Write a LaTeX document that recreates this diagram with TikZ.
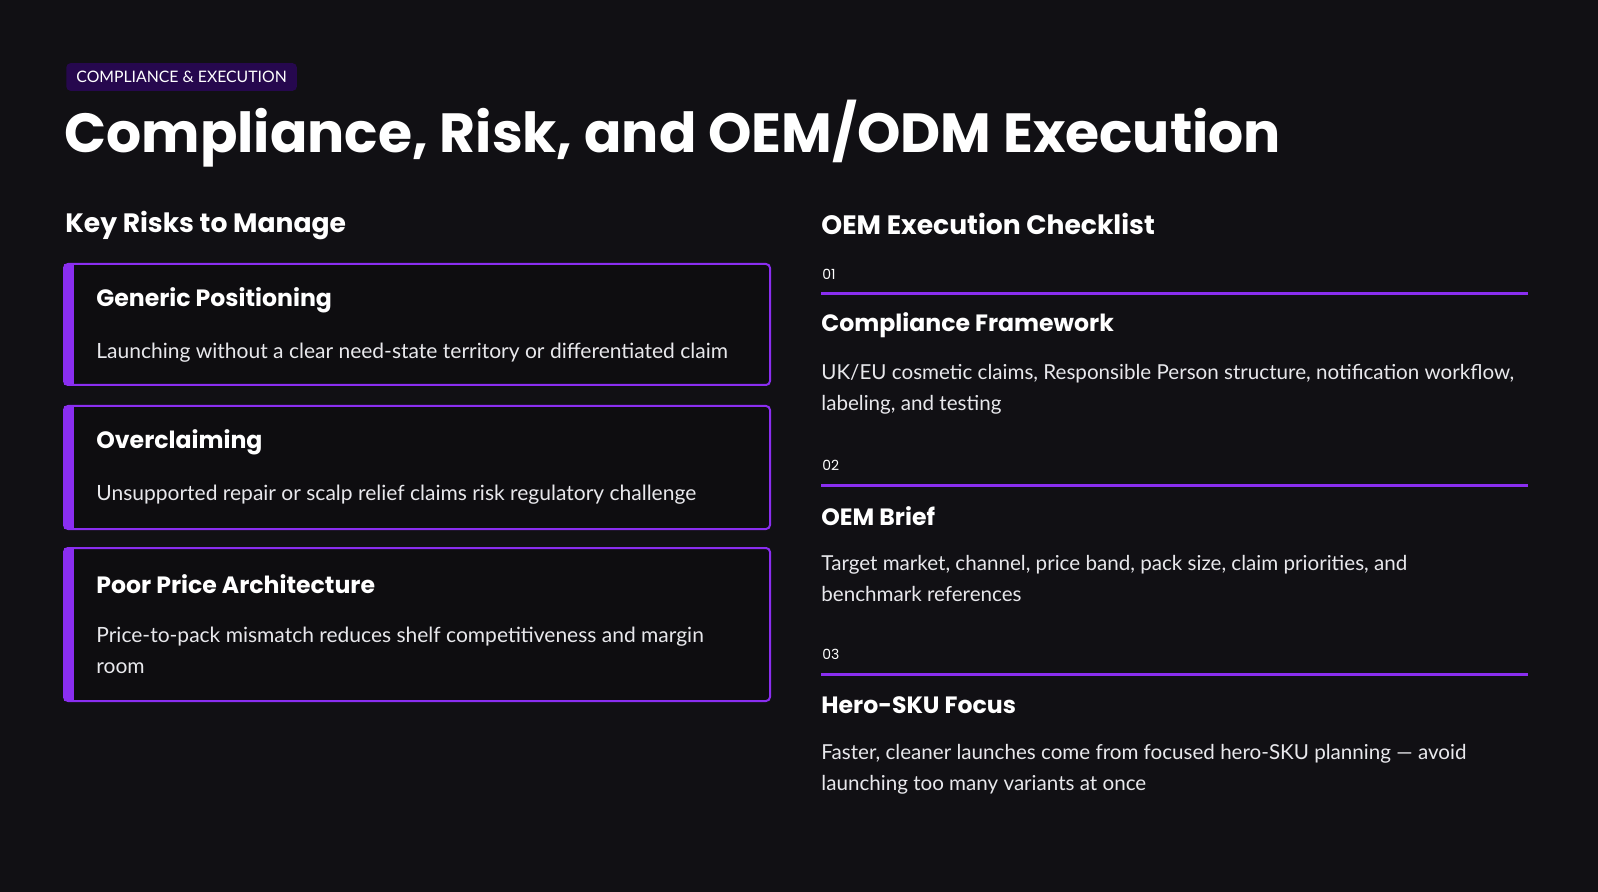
\documentclass[tikz,border=0pt]{standalone}
\usepackage{fontspec}
\setmainfont{Lato}
\newfontfamily\headfont{Poppins}
\definecolor{bgdark}{RGB}{17,16,20}
\definecolor{cardbg}{RGB}{14,13,16}
\definecolor{accent}{RGB}{138,46,240}
\definecolor{tagbg}{RGB}{38,8,78}
\definecolor{bodygrey}{RGB}{232,232,236}

\begin{document}
\begin{tikzpicture}[x=0.5pt, y=-0.5pt,
    tag/.style={fill=tagbg, rounded corners=2pt, text=white, font=\fontsize{7.9}{9}\selectfont, inner xsep=5pt, inner ysep=4pt, anchor=west},
    heading/.style={text=white, font=\headfont\fontsize{13.3}{15}\selectfont\bfseries, anchor=west, inner sep=0pt},
    card/.style={draw=accent, line width=1pt, fill=cardbg, rounded corners=2pt},
    cardtitle/.style={text=white, font=\headfont\fontsize{11.8}{14}\selectfont\bfseries, anchor=west, inner sep=0pt},
    cardbody/.style={text=bodygrey, font=\fontsize{10.5}{15.5}\selectfont, anchor=north west, inner sep=0pt, align=left},
    stepbody/.style={cardbody, font=\fontsize{10.3}{15.5}\selectfont},
    stepnum/.style={text=white, font=\headfont\fontsize{7}{8}\selectfont, anchor=west, inner sep=0pt},
    steprule/.style={accent, line width=1.5pt}
]
% background
\fill[bgdark] (0,0) rectangle (1598,892);
\useasboundingbox (0,0) rectangle (1598,892);

% header
\node[tag] (tag) at (66,77) {COMPLIANCE \& EXECUTION};
\node[text=white, font=\headfont\fontsize{27.6}{32}\selectfont\bfseries, anchor=west, inner sep=0pt] (title) at (64,134) {Compliance, Risk, and OEM/ODM Execution};

% left column
\node[heading] (risks) at (65,226) {Key Risks to Manage};

\foreach \top/\bot/\name/\body [count=\i] in {
    264/385/Generic Positioning/{Launching without a clear need-state territory or differentiated claim},
    406/529/Overclaiming/{Unsupported repair or scalp relief claims risk regulatory challenge},
    548/701/Poor Price Architecture/{Price-to-pack mismatch reduces shelf competitiveness and margin\\room}} {
  \draw[card] (64,\top) rectangle (770,\bot);
  \fill[accent] (64,\top) rectangle (74,\bot);
  \node[cardtitle] (risk\i) at (96,\top+36) {\name};
  \node[cardbody] (riskbody\i) at (96,\top+79) {\body};
}

% right column
\node[heading] (checklist) at (821,224) {OEM Execution Checklist};

\foreach \y/\num/\name/\body [count=\i] in {
    274/01/Compliance Framework/{UK/EU cosmetic claims, Responsible Person structure, notification workflow,\\labeling, and testing},
    465/02/OEM Brief/{Target market, channel, price band, pack size, claim priorities, and\\benchmark references},
    654/03/Hero-SKU Focus/{Faster, cleaner launches come from focused hero-SKU planning — avoid\\launching too many variants at once}} {
  \node[stepnum] (num\i) at (822,\y) {\num};
  \coordinate (rulel\i) at (821,\y+20);
  \coordinate (ruler\i) at (1528,\y+20);
  \draw[steprule] (rulel\i) -- (ruler\i);
  \node[cardtitle] (step\i) at (821,\y+51) {\name};
  \node[stepbody] (stepbody\i) at (821,\y+90) {\body};
}
\end{tikzpicture}
\end{document}
